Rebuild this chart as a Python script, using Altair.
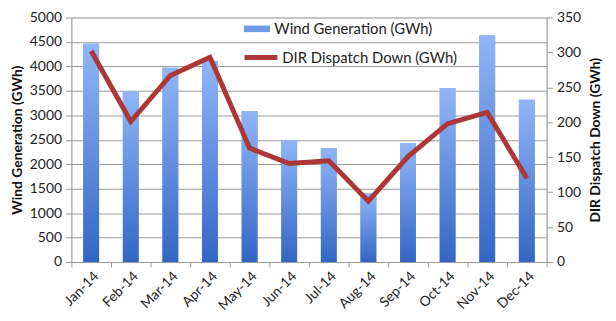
import altair as alt
import pandas as pd

months = ["Jan-14", "Feb-14", "Mar-14", "Apr-14", "May-14", "Jun-14",
          "Jul-14", "Aug-14", "Sep-14", "Oct-14", "Nov-14", "Dec-14"]
wind_gen = [4460, 3480, 3970, 4110, 3080, 2490, 2330, 1400, 2430, 3560, 4630, 3320]
dir_down = [302, 201, 267, 293, 163, 141, 145, 87, 151, 198, 214, 120]

bar_name = "Wind Generation (GWh)"
line_name = "DIR Dispatch Down (GWh)"

df = pd.DataFrame({"month": months, "wind": wind_gen, "dir": dir_down,
                   "s1": bar_name, "s2": line_name})

FONT = "Lato"
GRID = "#9a9a9a"

x = alt.X("month:N", sort=months, title=None,
          scale=alt.Scale(paddingInner=0, paddingOuter=0),
          axis=alt.Axis(labelAngle=-45, labelAlign="right", labelBaseline="top",
                        labelFontSize=14, labelFont=FONT, labelColor="#222",
                        tickBand="extent", tickColor=GRID, domainColor=GRID,
                        tickSize=5, labelPadding=2, grid=False))

y_left = alt.Y("wind:Q", title="Wind Generation (GWh)",
               scale=alt.Scale(domain=[0, 5000], nice=False),
               axis=alt.Axis(values=list(range(0, 5001, 500)), grid=True, format="d",
                             gridColor=GRID, gridWidth=1, domainColor=GRID,
                             tickColor=GRID, tickSize=6, labelFontSize=14,
                             labelFont=FONT, labelColor="#222",
                             titleFont=FONT, titleFontSize=14, titleFontWeight="bold",
                             titleColor="#111", titlePadding=5, labelPadding=4))

base = alt.Chart(df)

bar_legend = base.mark_bar(size=16).encode(
    x=x, y=y_left,
    color=alt.Color("s1:N", scale=alt.Scale(range=["#6f9be8"]),
                    legend=alt.Legend(title=None, orient="none", legendX=174, legendY=-2,
                                      symbolType="M-1,-0.25H1V0.25H-1Z", symbolSize=700,
                                      symbolStrokeWidth=0, labelFont=FONT,
                                      labelFontSize=15, labelColor="#222",
                                      labelLimit=300, padding=0, labelOffset=4)),
)

bar_grad = base.mark_bar(
    size=16,
    color=alt.Gradient(gradient="linear", x1=0, x2=0, y1=0, y2=1,
                       stops=[alt.GradientStop(color="#90b6f8", offset=0),
                              alt.GradientStop(color="#3366c4", offset=1)]),
).encode(x=x, y=alt.Y("wind:Q", scale=alt.Scale(domain=[0, 5000], nice=False), axis=None))

line = base.mark_line(strokeWidth=5).encode(
    x=x,
    y=alt.Y("dir:Q", title="DIR Dispatch Down (GWh)",
            scale=alt.Scale(domain=[0, 350], nice=False),
            axis=alt.Axis(orient="right", values=list(range(0, 351, 50)), grid=False,
                          domainColor=GRID, tickColor=GRID, tickSize=6,
                          labelFontSize=14, labelFont=FONT, labelColor="#222",
                          titleFont=FONT, titleFontSize=14, titleFontWeight="bold",
                          titleColor="#111", titleAngle=-90, titlePadding=22,
                          labelPadding=4)),
    stroke=alt.Stroke("s2:N", scale=alt.Scale(range=["#ad3636"]),
                      legend=alt.Legend(title=None, orient="none", legendX=172, legendY=21,
                                        symbolType="stroke", symbolSize=1100,
                                        symbolStrokeWidth=5, labelFont=FONT,
                                        labelFontSize=15, labelColor="#222",
                                        labelLimit=300, padding=0, labelOffset=2)),
)

chart = alt.layer(bar_legend, bar_grad, line).resolve_scale(y="independent").properties(
    width=480, height=247,
    autosize=alt.AutoSizeParams(type="none"),
    padding={"left": 64, "top": 8, "right": 62, "bottom": 56},
).configure_view(stroke=GRID, strokeWidth=1).configure(background="white")

chart.save("out.html", embed_options={"renderer": "svg", "actions": False})
